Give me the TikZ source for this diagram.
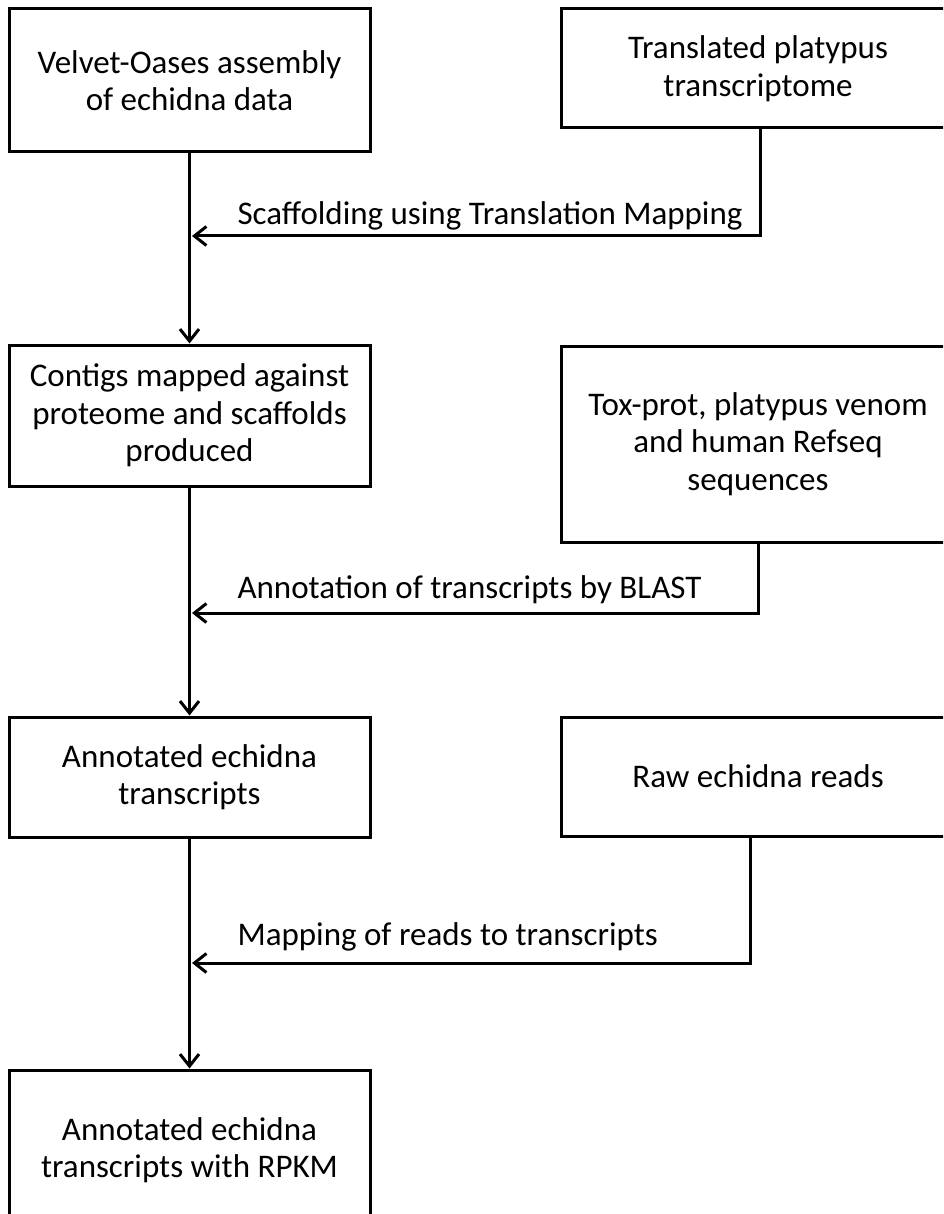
\documentclass[tikz,border=0pt]{standalone}
\usepackage{fontspec}
\setmainfont{Carlito}
\usetikzlibrary{arrows.meta}

\begin{document}
\begin{tikzpicture}[x=1pt,y=-1pt,>={Straight Barb[length=12pt,width=19pt]},
  box/.style={draw,line width=3pt,align=center,inner sep=0pt,font=\fontsize{33}{37.5}\selectfont},
  stage/.style={box,minimum width=361pt},
  source/.style={box,minimum width=394pt},
  flow/.style={->,line width=3pt},
  lbl/.style={anchor=base west,font=\fontsize{33}{37.5}\selectfont}]
\useasboundingbox (0,0) rectangle (943,1214);
\clip (0,0) rectangle (943,1214);
% main column
\node[stage,minimum height=143pt] (velvet) at (189.5,80.5) {Velvet-Oases assembly\\of echidna data};
\node[stage,minimum height=141pt] (contigs) at (189.5,415.5) {Contigs mapped against\\proteome and scaffolds\\produced};
\node[stage,minimum height=120pt] (annot) at (189.5,777) {Annotated echidna\\transcripts};
\node[stage,minimum height=160pt] (rpkm) at (189.5,1150) {Annotated echidna\\transcripts with RPKM};
% inputs on the right
\node[source,minimum height=119pt] (platypus) at (758,68.5) {Translated platypus\\transcriptome};
\node[source,minimum height=196pt] (toxprot) at (758,444) {Tox-prot, platypus venom\\and human Refseq\\sequences};
\node[source,minimum height=119pt] (rawreads) at (758,776.5) {Raw echidna reads};
% joins on the main line
\coordinate (j1) at (192,236);
\coordinate (j2) at (192,613);
\coordinate (j3) at (192,963);
\draw[flow] (velvet) -- (contigs);
\draw[flow] (contigs) -- (annot);
\draw[flow] (annot) -- (rpkm);
\draw[flow] ([xshift=2pt]platypus.south) |- (j1);
\draw[flow] (toxprot.south) |- (j2);
\draw[flow] ([xshift=-8pt]rawreads.south) |- (j3);
\node[lbl] (scaf) at (234,225) {Scaffolding using Translation Mapping};
\node[lbl] (blast) at (234,598) {Annotation of transcripts by BLAST};
\node[lbl] (mapreads) at (234,945) {Mapping of reads to transcripts};
\end{tikzpicture}
\end{document}
